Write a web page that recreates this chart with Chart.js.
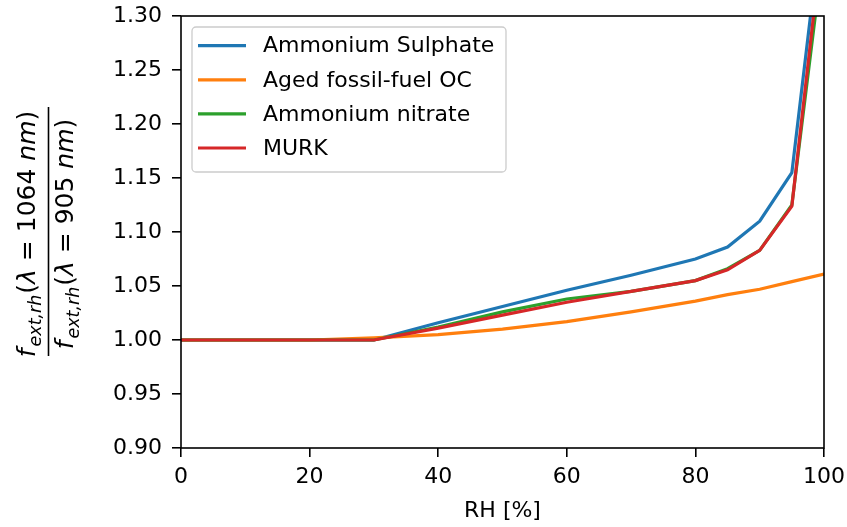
<!DOCTYPE html>
<html>
<head>
<meta charset="utf-8">
<script src="https://cdn.jsdelivr.net/npm/chart.js@4.4.1/dist/chart.umd.min.js"></script>
<style>
    html, body { margin: 0; padding: 0; background: #fff; }
    #wrap { width: 847px; height: 527px; position: relative; }
</style>
</head>
<body>
<div id="wrap"><canvas id="fextRatio"></canvas></div>
<script>
/*----------------------------------------------------------------*/
// data
const rhValues = [0, 10, 20, 30, 40, 50, 60, 70, 80, 85, 90, 95, 100];
const ammSulphate = [1.000, 1.000, 1.000, 1.000, 1.016, 1.031, 1.046, 1.060, 1.075, 1.086, 1.110, 1.155, 1.405];
const agedFossilOC = [1.000, 1.000, 1.000, 1.002, 1.005, 1.010, 1.017, 1.026, 1.036, 1.042, 1.047, 1.054, 1.061];
const ammNitrate = [1.000, 1.000, 1.000, 1.000, 1.012, 1.026, 1.038, 1.045, 1.055, 1.066, 1.083, 1.125, 1.365];
const murk = [1.000, 1.000, 1.000, 1.000, 1.011, 1.023, 1.035, 1.045, 1.055, 1.065, 1.083, 1.124, 1.385];
const seriesLabels = ["Ammonium Sulphate", "Aged fossil-fuel OC", "Ammonium nitrate", "MURK"];
const seriesColors = ["#1f77b4", "#ff7f0e", "#2ca02c", "#d62728"];

const toPoints = (arr) => rhValues.map((x, i) => ({ x: x, y: arr[i] }));

Chart.defaults.font.family = "'DejaVu Sans', sans-serif";
Chart.defaults.font.size = 22;
Chart.defaults.color = "#000";

/*----------------------------------------------------------------*/
// box round the plot + legend inside the plot (upper left)
const frameAndLegend = {
    id: "frameAndLegend",
    afterDraw(chart) {
        const { ctx, chartArea: a } = chart;
        ctx.save();
        ctx.strokeStyle = "#000";
        ctx.lineWidth = 1.6;
        ctx.strokeRect(a.left, a.top, a.right - a.left, a.bottom - a.top);

        // legend box
        const bx = 192, by = 27, bw = 314, bh = 145;
        ctx.beginPath();
        ctx.roundRect(bx, by, bw, bh, 4);
        ctx.fillStyle = "rgba(255,255,255,0.8)";
        ctx.fill();
        ctx.strokeStyle = "#cccccc";
        ctx.lineWidth = 1.3;
        ctx.stroke();

        ctx.font = "22px 'DejaVu Sans'";
        ctx.textBaseline = "middle";
        ctx.textAlign = "left";
        chart.data.datasets.forEach((ds, i) => {
            const y = 45.7 + i * 34.1;
            ctx.beginPath();
            ctx.moveTo(198, y);
            ctx.lineTo(246, y);
            ctx.strokeStyle = ds.borderColor;
            ctx.lineWidth = 3.2;
            ctx.stroke();
            ctx.fillStyle = "#000";
            ctx.fillText(ds.label, 263, y + 1);
        });
        ctx.restore();
    }
};

// y axis title: f_ext,rh(lambda=1064nm) / f_ext,rh(lambda=905nm)
const fracTitle = {
    id: "fracTitle",
    afterDraw(chart) {
        const { ctx } = chart;
        const big = "25px 'DejaVu Sans'";
        const bigIt = "oblique 25px 'DejaVu Sans'";
        const subIt = "oblique 17.5px 'DejaVu Sans'";
        const parts = (wl) => [
            { t: "f", f: bigIt, dy: 0 },
            { t: "ext,rh", f: subIt, dy: 6, gap: 2 },
            { t: "(", f: big, dy: 0, gap: 1 },
            { t: "\u03bb", f: bigIt, dy: 0 },
            { t: " = " + wl, f: big, dy: 0 },
            { t: " nm", f: bigIt, dy: 0 },
            { t: ")", f: big, dy: 0 }
        ];
        const drawLine = (list, baseX, cy) => {
            let w = 0;
            list.forEach(p => { ctx.font = p.f; p.w = ctx.measureText(p.t).width + (p.gap || 0); w += p.w; });
            ctx.save();
            ctx.translate(baseX, cy);
            ctx.rotate(-Math.PI / 2);
            ctx.textBaseline = "alphabetic";
            ctx.textAlign = "left";
            ctx.fillStyle = "#000";
            let x = -w / 2;
            list.forEach(p => {
                ctx.font = p.f;
                ctx.fillText(p.t, x + (p.gap || 0), p.dy);
                x += p.w;
            });
            ctx.restore();
        };
        drawLine(parts("1064"), 34.5, 234);
        drawLine(parts("905"), 72.5, 234);
        ctx.save();
        ctx.strokeStyle = "#000";
        ctx.lineWidth = 1.6;
        ctx.beginPath();
        ctx.moveTo(48.5, 107);
        ctx.lineTo(48.5, 356);
        ctx.stroke();
        ctx.restore();
    }
};

/*----------------------------------------------------------------*/
// order: lower value is drawn on top, so MURK ends up above the rest
new Chart(document.getElementById("fextRatio"), {
    type: "line",
    data: {
        datasets: [
            { label: seriesLabels[0], data: toPoints(ammSulphate), borderColor: seriesColors[0], order: 4 },
            { label: seriesLabels[1], data: toPoints(agedFossilOC), borderColor: seriesColors[1], order: 3 },
            { label: seriesLabels[2], data: toPoints(ammNitrate), borderColor: seriesColors[2], order: 2 },
            { label: seriesLabels[3], data: toPoints(murk), borderColor: seriesColors[3], order: 1 }
        ]
    },
    options: {
        responsive: true,
        maintainAspectRatio: false,
        animation: false,
        layout: {
            padding: { left: 0, right: 23, top: 16, bottom: 0 }
        },
        elements: {
            point: { radius: 0 },
            line: { borderWidth: 3.2, tension: 0 }
        },
        datasets: {
            line: { clip: 0 }
        },
        plugins: {
            legend: { display: false },
            tooltip: { enabled: false }
        },
        scales: {
            x: {
                type: "linear",
                min: 0,
                max: 100,
                afterFit: (scale) => {
                    scale.height = 79;
                    scale.paddingLeft = 0;
                    scale.paddingRight = 0;
                },
                grid: { drawOnChartArea: false, color: "#000", lineWidth: 1.6, tickLength: 9 },
                border: { display: false },
                ticks: { stepSize: 20, padding: 7, maxRotation: 0 },
                title: { display: true, text: "RH [%]", padding: { top: 0, bottom: 3 } }
            },
            y: {
                min: 0.9,
                max: 1.3,
                afterFit: (scale) => {
                    scale.width = 181;
                    scale.paddingTop = 0;
                    scale.paddingBottom = 0;
                },
                grid: { drawOnChartArea: false, color: "#000", lineWidth: 1.6, tickLength: 9 },
                border: { display: false },
                ticks: {
                    stepSize: 0.05,
                    padding: 10,
                    callback: (v) => v.toFixed(2)
                }
            }
        }
    },
    plugins: [frameAndLegend, fracTitle]
});
/*----------------------------------------------------------------*/
</script>
</body>
</html>
